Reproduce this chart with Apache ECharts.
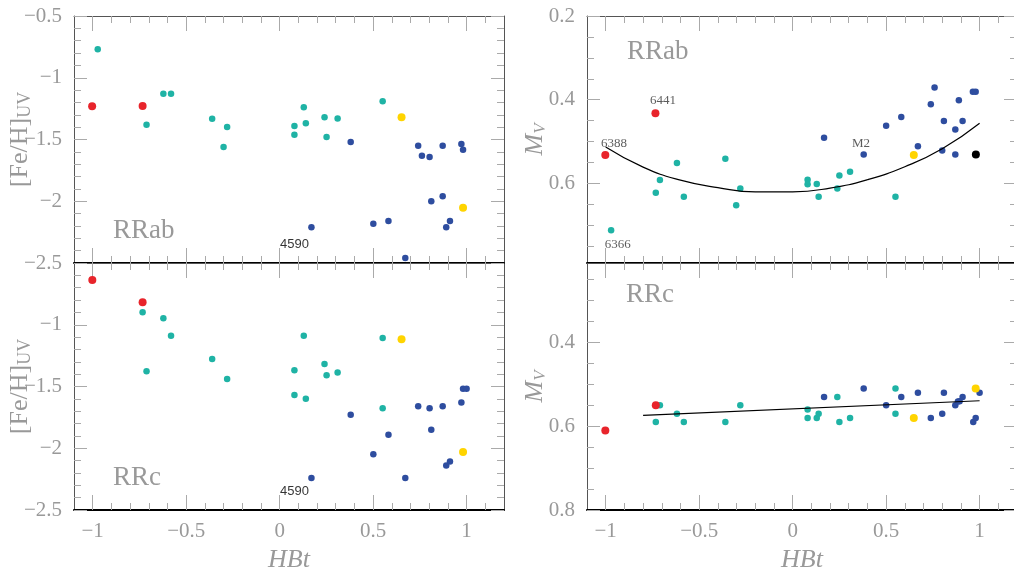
<!DOCTYPE html>
<html>
<head>
<meta charset="utf-8">
<script src="https://cdn.jsdelivr.net/npm/echarts@6/dist/echarts.min.js"></script>
<style>html,body{margin:0;padding:0;background:#fff}#c{width:1014px;height:568px}</style>
</head>
<body>
<div id="c"></div>
<script>
// ---- tick values ----
const xMajor = [-1, -0.5, 0, 0.5, 1];
const xMinor = [-0.9, -0.8, -0.7, -0.6, -0.4, -0.3, -0.2, -0.1, 0.1, 0.2, 0.3, 0.4, 0.6, 0.7, 0.8, 0.9, 1.1];
const feMajor = [-2.5, -2, -1.5, -1, -0.5];
const feMinor = [-2.4, -2.3, -2.2, -2.1, -1.9, -1.8, -1.7, -1.6, -1.4, -1.3, -1.2, -1.1, -0.9, -0.8, -0.7, -0.6];
const feLabelsTop = [-2.5, -2, -1.5, -1, -0.5];
const feLabelsBottom = [-2.5, -2, -1.5, -1];
const mvMajor = [0.2, 0.4, 0.6, 0.8];
const mvMinor = [0.25, 0.3, 0.35, 0.45, 0.5, 0.55, 0.65, 0.7, 0.75];
const mvLabelsTop = [0.2, 0.4, 0.6];
const mvLabelsBottom = [0.4, 0.6, 0.8];

// ---- RRab, [Fe/H]UV vs HBt ----
const abFeTeal = [[-0.973,-0.77],[-0.712,-1.38],[-0.622,-1.129],[-0.581,-1.129],[-0.361,-1.331],[-0.281,-1.399],[-0.30,-1.561],[0.079,-1.391],[0.079,-1.461],[0.129,-1.239],[0.14,-1.369],[0.24,-1.32],[0.251,-1.48],[0.31,-1.329],[0.551,-1.191]];
const abFeBlue = [[0.38,-1.52],[0.17,-2.211],[0.501,-2.182],[0.582,-2.16],[0.672,-2.46],[0.741,-1.55],[0.761,-1.631],[0.802,-1.642],[0.872,-1.55],[0.972,-1.536],[0.981,-1.582],[0.811,-2.0],[0.872,-1.96],[0.911,-2.16],[0.891,-2.211]];
const abFeRed = [[-1.003,-1.231],[-0.733,-1.229]];
const abFeYellow = [[0.652,-1.32],[0.981,-2.052]];

// ---- RRc, [Fe/H]UV vs HBt ----
const cFeTeal = [[-0.733,-0.898],[-0.622,-0.947],[-0.581,-1.089],[-0.712,-1.377],[-0.361,-1.277],[-0.281,-1.439],[0.079,-1.369],[0.079,-1.568],[0.14,-1.6],[0.129,-1.089],[0.24,-1.318],[0.251,-1.409],[0.31,-1.387],[0.551,-1.108],[0.551,-1.677]];
const cFeBlue = [[0.38,-1.729],[0.17,-2.24],[0.501,-2.048],[0.582,-1.89],[0.672,-2.24],[0.741,-1.659],[0.802,-1.677],[0.811,-1.85],[0.872,-1.659],[0.972,-1.629],[0.981,-1.519],[1.0,-1.519],[0.891,-2.14],[0.911,-2.108]];
const cFeRed = [[-1.002,-0.637],[-0.733,-0.818]];
const cFeYellow = [[0.652,-1.118],[0.981,-2.03]];

// ---- RRab, Mv vs HBt ----
const abMvTeal = [[-0.971,0.712],[-0.732,0.622],[-0.71,0.592],[-0.619,0.551],[-0.582,0.632],[-0.36,0.541],[-0.28,0.612],[-0.302,0.652],[0.08,0.591],[0.08,0.602],[0.129,0.601],[0.139,0.632],[0.239,0.612],[0.25,0.581],[0.307,0.572],[0.55,0.632]];
const abMvBlue = [[0.168,0.491],[0.38,0.531],[0.5,0.462],[0.581,0.441],[0.67,0.511],[0.739,0.411],[0.759,0.371],[0.8,0.521],[0.809,0.451],[0.87,0.471],[0.87,0.531],[0.889,0.401],[0.909,0.451],[0.964,0.381],[0.979,0.381]];
const abMvRed = [[-1.002,0.532],[-0.734,0.432]];
const abMvYellow = [[0.648,0.532]];
const abMvBlack = [[0.98,0.531]];
const abMvFit = [[-1,0.513],[-0.8,0.561],[-0.6,0.592],[-0.4,0.610],[-0.2,0.620],[0,0.620],[0.2,0.611],[0.4,0.591],[0.6,0.560],[0.8,0.517],[1.0,0.456]];

// ---- RRc, Mv vs HBt ----
const cMvTeal = [[-0.71,0.55],[-0.732,0.59],[-0.619,0.57],[-0.582,0.59],[-0.36,0.59],[-0.28,0.55],[0.08,0.56],[0.08,0.58],[0.129,0.58],[0.139,0.57],[0.239,0.53],[0.25,0.59],[0.307,0.58],[0.55,0.51],[0.55,0.57]];
const cMvBlue = [[0.168,0.53],[0.38,0.51],[0.5,0.55],[0.581,0.53],[0.67,0.52],[0.739,0.58],[0.8,0.57],[0.809,0.52],[0.87,0.55],[0.884,0.541],[0.893,0.54],[0.909,0.53],[0.966,0.59],[0.979,0.58],[1.0,0.52]];
const cMvRed = [[-1.002,0.61],[-0.732,0.55]];
const cMvYellow = [[0.648,0.58],[0.979,0.51]];
const cMvFit = [[-0.8,0.574],[1.0,0.539]];

// ---- annotations ----
const abFeNotes = [{name:'4590', value:[0.079,-2.349]}];
const cFeNotes = [{name:'4590', value:[0.079,-2.35]}];
const abMvNotes = [{name:'6441', value:[-0.693,0.403]},{name:'6388', value:[-0.955,0.504]},{name:'M2', value:[0.366,0.505]},{name:'6366', value:[-0.935,0.745]}];

const X_MIN = -1.1, X_MAX = 1.2;
const TICK = '#aaa';
const LABEL = {color:'#999', fontFamily:'Liberation Serif', fontSize:21};
const fmt = v => (v < 0 ? '\u2212' : '') + String(Math.abs(Math.round(v*100)/100));

function xAxes(g, showLabels) {
  const base = {gridIndex:g, type:'value', min:X_MIN, max:X_MAX, splitLine:{show:false}};
  return [
    Object.assign({}, base, {position:'bottom',
      axisLine:{show:true, onZero:false, lineStyle:{color:'#000', width:2}},
      axisTick:{show:true, inside:true, length:15, customValues:xMajor, lineStyle:{color:TICK}},
      axisLabel:Object.assign({show:showLabels, customValues:xMajor, formatter:fmt, margin:11}, LABEL),
      name: showLabels ? 'HBt' : '', nameLocation:'middle', nameGap:37, nameMoveOverlap:false,
      nameTextStyle:{color:'#999', fontFamily:'Liberation Serif', fontStyle:'italic', fontSize:26}}),
    Object.assign({}, base, {position:'bottom', axisLine:{show:false, onZero:false},
      axisTick:{show:true, inside:true, length:7, customValues:xMinor, lineStyle:{color:TICK}}, axisLabel:{show:false}}),
    Object.assign({}, base, {position:'top', axisLine:{show:true, onZero:false, lineStyle:{color:'#555', width:1}},
      axisTick:{show:true, inside:true, length:15, customValues:xMajor, lineStyle:{color:TICK}}, axisLabel:{show:false}}),
    Object.assign({}, base, {position:'top', axisLine:{show:false, onZero:false},
      axisTick:{show:true, inside:true, length:7, customValues:xMinor, lineStyle:{color:TICK}}, axisLabel:{show:false}})
  ];
}
function yAxes(g, min, max, inverse, major, minor, labels, name) {
  const base = {gridIndex:g, type:'value', min:min, max:max, inverse:inverse, splitLine:{show:false}};
  return [
    Object.assign({}, base, {position:'left',
      axisLine:{show:true, onZero:false, lineStyle:{color:'#555', width:1}},
      axisTick:{show:true, inside:true, length:13, customValues:major, lineStyle:{color:TICK}},
      axisLabel:Object.assign({show:true, customValues:labels, formatter:fmt, margin:12}, LABEL),
      name:name.text, nameLocation:'middle', nameGap:name.gap, nameRotate:90, nameMoveOverlap:false,
      nameTextStyle:name.style}),
    Object.assign({}, base, {position:'left', axisLine:{show:false, onZero:false},
      axisTick:{show:true, inside:true, length:7, customValues:minor, lineStyle:{color:TICK}}, axisLabel:{show:false}}),
    Object.assign({}, base, {position:'right', axisLine:{show:true, onZero:false, lineStyle:{color:'#555', width:1}},
      axisTick:{show:true, inside:true, length:13, customValues:major, lineStyle:{color:TICK}}, axisLabel:{show:false}}),
    Object.assign({}, base, {position:'right', axisLine:{show:false, onZero:false},
      axisTick:{show:true, inside:true, length:7, customValues:minor, lineStyle:{color:TICK}}, axisLabel:{show:false}})
  ];
}

const feName = {text:'[Fe/H]{s|UV}', gap:40, style:{color:'#999', fontFamily:'Liberation Serif', fontSize:26,
  rich:{s:{color:'#999', fontFamily:'Liberation Serif', fontSize:18, verticalAlign:'bottom', padding:[10,0,0,0]}}}};
const mvName = {text:'{m|M}{s|V}', gap:38, style:{color:'#999', fontFamily:'Liberation Serif', fontSize:26,
  rich:{m:{color:'#999', fontFamily:'Liberation Serif', fontStyle:'italic', fontSize:26},
        s:{color:'#999', fontFamily:'Liberation Serif', fontStyle:'italic', fontSize:17, padding:[10,0,0,0]}}}};

const COL = {teal:'#1fb3a5', blue:'#2e4d9f', red:'#e8242b', yellow:'#ffd400', black:'#000'};
function pts(g, data, color, size) {
  return {type:'scatter', xAxisIndex:g*4, yAxisIndex:g*4, data:data, symbolSize:size, clip:false,
    itemStyle:{color:color, opacity:1}, silent:true, animation:false};
}
function notes(g, data, style) {
  return {type:'scatter', xAxisIndex:g*4, yAxisIndex:g*4, data:data, symbolSize:1, clip:false, z:5,
    itemStyle:{color:'rgba(0,0,0,0)'}, label:Object.assign({show:true, position:'inside', formatter:'{b}'}, style),
    silent:true, animation:false};
}
function fit(g, data, smooth) {
  return {type:'line', xAxisIndex:g*4, yAxisIndex:g*4, data:data, smooth:smooth, symbol:'none',
    lineStyle:{color:'#000', width:1.2}, silent:true, animation:false, z:3};
}

const sansNote = {color:'#000', fontFamily:'Liberation Sans', fontSize:13};
const serifNote = {color:'#333', fontFamily:'Liberation Serif', fontSize:13};

const option = {
  animation:false,
  backgroundColor:'#fff',
  grid:[
    {left:74, top:16, width:430, height:247, outerBoundsMode:'none', containLabel:false},
    {left:74, top:263, width:430, height:247, outerBoundsMode:'none', containLabel:false},
    {left:587, top:16, width:430, height:247, outerBoundsMode:'none', containLabel:false},
    {left:587, top:263, width:430, height:247, outerBoundsMode:'none', containLabel:false}
  ],
  xAxis:[].concat(xAxes(0,false), xAxes(1,true), xAxes(2,false), xAxes(3,true)),
  yAxis:[].concat(
    yAxes(0, -2.5, -0.5, false, feMajor, feMinor, feLabelsTop, feName),
    yAxes(1, -2.5, -0.5, false, feMajor, feMinor, feLabelsBottom, feName),
    yAxes(2, 0.2, 0.79, true, mvMajor, mvMinor, mvLabelsTop, mvName),
    yAxes(3, 0.21, 0.8, true, mvMajor, mvMinor, mvLabelsBottom, mvName)
  ),
  graphic:[
    {type:'text', left:113, top:217, style:{text:'RRab', fill:'#999', font:'27px "Liberation Serif"'}},
    {type:'text', left:113, top:464, style:{text:'RRc', fill:'#999', font:'27px "Liberation Serif"'}},
    {type:'text', left:627, top:38, style:{text:'RRab', fill:'#999', font:'27px "Liberation Serif"'}},
    {type:'text', left:626, top:281, style:{text:'RRc', fill:'#999', font:'27px "Liberation Serif"'}}
  ],
  series:[
    pts(0, abFeTeal, COL.teal, 6.5), pts(0, abFeBlue, COL.blue, 6.5), pts(0, abFeRed, COL.red, 8), pts(0, abFeYellow, COL.yellow, 8),
    notes(0, abFeNotes, sansNote),
    pts(1, cFeTeal, COL.teal, 6.5), pts(1, cFeBlue, COL.blue, 6.5), pts(1, cFeRed, COL.red, 8), pts(1, cFeYellow, COL.yellow, 8),
    notes(1, cFeNotes, sansNote),
    fit(2, abMvFit, true),
    pts(2, abMvTeal, COL.teal, 6.5), pts(2, abMvBlue, COL.blue, 6.5), pts(2, abMvRed, COL.red, 8), pts(2, abMvYellow, COL.yellow, 8), pts(2, abMvBlack, COL.black, 8),
    notes(2, abMvNotes, serifNote),
    fit(3, cMvFit, false),
    pts(3, cMvTeal, COL.teal, 6.5), pts(3, cMvBlue, COL.blue, 6.5), pts(3, cMvRed, COL.red, 8), pts(3, cMvYellow, COL.yellow, 8)
  ]
};
const chart = echarts.init(document.getElementById('c'), null, {renderer:'canvas'});
chart.setOption(option);
</script>
</body>
</html>
